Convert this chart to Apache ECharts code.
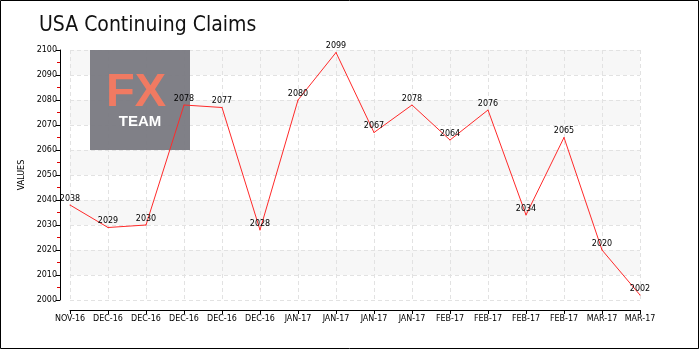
<!DOCTYPE html>
<html>
<head>
<meta charset="utf-8">
<script src="https://cdn.jsdelivr.net/npm/echarts@6/dist/echarts.min.js"></script>
<style>html,body{margin:0;padding:0;background:#fff}#c{width:700px;height:350px}</style>
</head>
<body>
<div id="c"></div>
<script>
const categories = ['NOV-16','DEC-16','DEC-16','DEC-16','DEC-16','DEC-16','JAN-17','JAN-17','JAN-17','JAN-17','FEB-17','FEB-17','FEB-17','FEB-17','MAR-17','MAR-17'];
const values = [2038, 2029, 2030, 2078, 2077, 2028, 2080, 2099, 2067, 2078, 2064, 2076, 2034, 2065, 2020, 2002];
const titleText = 'USA Continuing Claims';
const yAxisName = 'VALUES';

const smallFont = 'DejaVu Sans, sans-serif';
const chart = echarts.init(document.getElementById('c'));
chart.setOption({
  animation: false,
  backgroundColor: '#fff',
  title: {
    text: titleText, left: 34, top: 10,
    textStyle: { fontFamily: 'Liberation Sans Narrow, DejaVu Sans Condensed, sans-serif', fontSize: 21, fontWeight: 'normal', color: '#111' }
  },
  grid: { left: 70, right: 60, top: 50, bottom: 50 },
  xAxis: {
    type: 'category', data: categories, boundaryGap: false, offset: 10,
    axisLine: { lineStyle: { color: '#000', width: 1 } },
    axisTick: { show: true, length: 4, alignWithLabel: true, lineStyle: { color: '#000' } },
    axisLabel: { interval: 0, color: '#000', fontSize: 8, fontFamily: smallFont, margin: 5 },
    splitLine: { show: true, lineStyle: { color: '#e2e2e2', type: [4, 3] } }
  },
  yAxis: {
    type: 'value', min: 2000, max: 2100, interval: 10, offset: 10,
    name: yAxisName, nameLocation: 'middle', nameGap: 30, nameRotate: 90,
    nameTextStyle: { color: '#000', fontSize: 8, fontFamily: smallFont },
    axisLine: { show: true, lineStyle: { color: '#000', width: 1 } },
    axisTick: { show: true, length: 4, lineStyle: { color: '#000' } },
    minorTick: { show: true, splitNumber: 2, length: 3, lineStyle: { color: '#e00000' } },
    axisLabel: { color: '#000', fontSize: 8, fontFamily: smallFont, margin: 3, formatter: v => String(v) },
    splitLine: { show: true, lineStyle: { color: '#e2e2e2', type: [4, 3] } },
    splitArea: { show: true, areaStyle: { color: ['#ffffff', '#f7f7f7'] } }
  },
  graphic: { elements: [
    { type: 'rect', z: 1, shape: { x: 90, y: 50, width: 100, height: 100 }, style: { fill: 'rgba(120,120,128,0.94)' } },
    { type: 'text', z: 1, x: 136, y: 93, style: { text: 'FX', fill: '#f07a62', font: 'bold 47px Liberation Sans, sans-serif', textAlign: 'center', textVerticalAlign: 'middle' } },
    { type: 'text', z: 1, x: 140, y: 122, style: { text: 'TEAM', fill: '#ffffff', font: 'bold 15px Liberation Sans, sans-serif', textAlign: 'center', textVerticalAlign: 'middle' } },
    { type: 'rect', z: 100, shape: { x: 0.5, y: 0.5, width: 698, height: 348 }, style: { fill: 'none', stroke: '#000', lineWidth: 1 } }
  ]},
  series: [{
    type: 'line', data: values, z: 3, showSymbol: true, symbol: 'circle', symbolSize: 1,
    itemStyle: { color: '#ff2a2a' },
    lineStyle: { color: '#ff2a2a', width: 1 },
    label: { show: true, position: 'top', distance: 2, color: '#000', fontSize: 8, fontFamily: smallFont }
  }]
});
</script>
</body>
</html>
